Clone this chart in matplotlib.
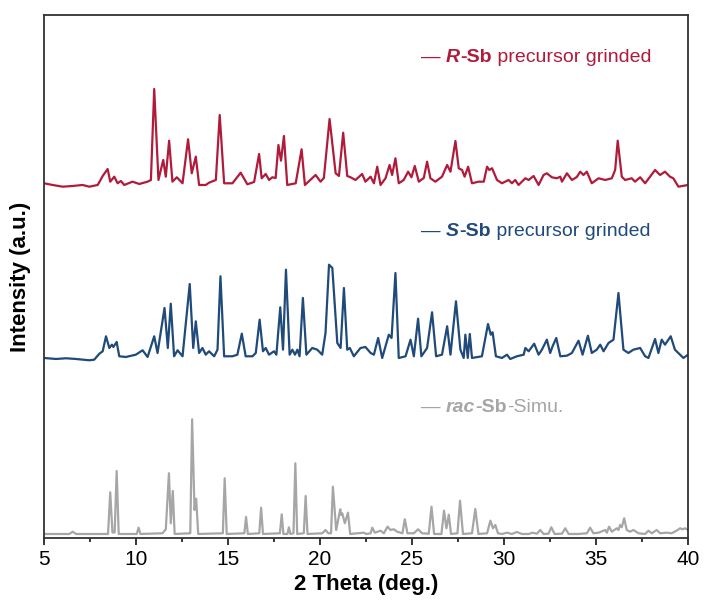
import numpy as np
import matplotlib
matplotlib.use("Agg")
import matplotlib.pyplot as plt

plt.rcParams['font.family'] = ['Liberation Sans', 'DejaVu Sans']

# R-Sb precursor grinded (2theta, intensity a.u.)
theta_r = [5.00, 5.47, 6.02, 6.56, 7.10, 7.46, 7.92, 8.19, 8.46, 8.60, 8.82, 9.00, 9.18, 9.36,
           9.81, 10.18, 10.63, 10.81, 10.99, 11.22, 11.48, 11.62, 11.80, 11.98, 12.22, 12.53,
           12.83, 13.03, 13.25, 13.43, 13.79, 13.97, 14.34, 14.55, 14.79, 15.24, 15.69, 16.05,
           16.42, 16.69, 16.83, 17.05, 17.23, 17.41, 17.59, 17.74, 17.88, 18.04, 18.22, 18.68,
           19.00, 19.18, 19.76, 20.03, 20.21, 20.52, 20.85, 21.03, 21.26, 21.48, 21.66, 21.93,
           22.29, 22.47, 22.75, 22.93, 23.11, 23.29, 23.56, 23.78, 23.92, 24.10, 24.28, 24.55,
           24.79, 24.97, 25.15, 25.37, 25.64, 25.82, 26.00, 26.27, 26.63, 26.91, 27.09, 27.36,
           27.54, 27.72, 27.86, 28.05, 28.26, 28.62, 28.90, 29.08, 29.20, 29.35, 29.62, 29.89,
           30.25, 30.43, 30.61, 30.79, 31.16, 31.34, 31.61, 31.88, 32.15, 32.33, 32.60, 32.87,
           33.06, 33.15, 33.42, 33.69, 33.96, 34.14, 34.32, 34.50, 34.77, 35.14, 35.50, 35.86,
           36.04, 36.18, 36.40, 36.58, 36.94, 37.12, 37.40, 37.67, 38.21, 38.48, 38.75, 39.02,
           39.20, 39.48, 40.00]
int_r = [1.7, 0, -1.7, -1.0, 0, -1.7, 0, 9, 16, 3.3, 8.3, 1.7, 4, 0,
         3.3, 1, 3.3, 5, 96, 5, 25, 8.3, 44.3, 3.3, 7.7, 1.7,
         45.7, 11.7, 28.3, 0, 0, 2.3, 5, 70, 1.7, 1.7, 12.3, 0.7,
         3, 31, 6.7, 11, 5, 7.7, 7, 40, 24.3, 49, 0, 1.7,
         35.7, 0, 10, 3.3, 7, 66, 11.7, 9, 52.3, 9, 7.7, 5,
         11, 3.3, 8.3, 1.7, 18.3, 0, 6.7, 20, 10, 26.7, 1.7, 5,
         13.3, 7.7, 19, 3.3, 7, 23.3, 6.7, 3.3, 8.3, 20, 13.3, 44,
         16.7, 15, 8.3, 18.3, 1.7, 3.3, 3.3, 18.3, 15, 16.7, 5, 1.7,
         5, 1.7, 5, 0, 6.7, 5, 9, 0, 10, 11.7, 7.7, 6.7,
         8.3, 3.3, 11.7, 5, 8, 13.3, 10, 13.3, 1.7, 6.7, 5, 6.7,
         15, 44.3, 8.3, 5, 6.7, 3.3, 7.7, 1.7, 15, 10, 13.3, 8.3,
         6.7, -1.7, 0]

# S-Sb precursor grinded
theta_s = [5.02, 5.65, 6.20, 6.74, 7.46, 7.73, 8.01, 8.19, 8.37, 8.55, 8.69, 8.77, 8.95, 9.09,
           9.45, 9.99, 10.36, 10.63, 10.99, 11.17, 11.55, 11.73, 11.89, 12.07, 12.26, 12.53,
           12.92, 13.11, 13.25, 13.43, 13.61, 13.79, 13.97, 14.25, 14.43, 14.59, 14.79, 15.24,
           15.51, 15.75, 15.96, 16.33, 16.51, 16.72, 16.90, 17.05, 17.23, 17.50, 17.63, 17.84,
           17.99, 18.15, 18.35, 18.50, 18.64, 18.77, 18.89, 19.07, 19.26, 19.58, 19.85, 20.12,
           20.30, 20.49, 20.67, 20.94, 21.12, 21.30, 21.48, 21.62, 21.84, 22.20, 22.47, 22.75,
           22.93, 23.16, 23.38, 23.74, 23.89, 24.10, 24.28, 24.65, 24.92, 25.10, 25.33, 25.51,
           25.82, 26.09, 26.31, 26.63, 26.91, 27.09, 27.27, 27.39, 27.63, 27.81, 27.90, 28.03,
           28.14, 28.26, 28.80, 29.13, 29.28, 29.38, 29.56, 29.89, 30.16, 30.34, 30.70, 31.07,
           31.16, 31.34, 31.64, 31.88, 32.06, 32.33, 32.51, 32.64, 32.84, 33.06, 33.42, 33.69,
           34.05, 34.27, 34.56, 34.77, 35.04, 35.23, 35.41, 35.68, 35.95, 36.22, 36.49, 36.76,
           37.03, 37.40, 37.67, 37.85, 38.21, 38.39, 38.57, 38.75, 39.06, 39.29, 39.57, 39.75,
           40.00]
int_s = [0, -1, -0.3, -1, -2.3, -1.7, 4.3, 6.7, 21.7, 10, 13.3, 11, 16, 1.7,
         1, 3.3, 7.7, 1, 21.7, 5, 50, 10, 54.3, 1.7, 7.7, 1.7,
         74, 10, 36.7, 5, 10, 3.3, 6.7, 1.7, 8.3, 81.7, 1.7, 1.7,
         3.3, 24.3, 1.7, 1.7, 5, 38.3, 6.7, 10, 3.3, 6.7, 3.3, 50.7,
         8.3, 88.3, 3.3, 8.3, 3.3, 8.3, 1.7, 60, 3.3, 10, 8.3, 3.3,
         25, 93.3, 90, 15, 10, 70, 8.3, 10, 1.7, 10, 11, 5,
         3.3, 20, 0, 23.3, 20, 85, 0, 1.7, 18.3, 1.7, 39.3, 1.7,
         10, 45.7, 1.7, 3.3, 31.7, 3.3, 35, 56.7, 8.3, 0, 23.3, 0,
         24, 0, 1.7, 34, 23.3, 25.7, 1.7, 0, 3.3, -1, 1.7, 3.3,
         10, 6.7, 14.3, 3.3, 8.3, 18.3, 5, 11.7, 20, 1.7, 2.3, 5,
         17.3, 3.3, 22.3, 5, 8.3, 13.3, 6.7, 15, 18.3, 65, 8.3, 5,
         8.3, 10, 1.7, 0, 19, 5, 18.3, 13.3, 21.7, 8.3, 3.3, 0,
         3.3]

# rac-Sb simulated
theta_sim = [5.00, 6.38, 6.56, 6.74, 8.48, 8.60, 8.72, 8.84, 8.95, 9.06, 10.04, 10.14, 10.24,
             11.44, 11.62, 11.79, 11.89, 12.00, 12.10, 12.95, 13.05, 13.18, 13.27, 13.38,
             14.72, 14.82, 14.93, 15.89, 15.98, 16.08, 16.70, 16.80, 16.90, 17.82, 17.92, 18.01,
             18.23, 18.31, 18.39, 18.56, 18.66, 18.76, 19.12, 19.22, 19.32, 20.12, 20.30, 20.45,
             20.60, 20.70, 20.88, 21.10, 21.15, 21.21, 21.35, 21.52, 21.64, 22.38, 22.52, 22.75,
             22.84, 22.98, 23.29, 23.47, 23.67, 23.83, 24.01, 24.19, 24.37, 24.48, 24.61, 24.75,
             25.10, 25.33, 25.55, 25.91, 26.06, 26.20, 26.60, 26.74, 26.87, 27.00, 27.12, 27.47,
             27.61, 27.77, 28.26, 28.44, 28.61, 29.08, 29.26, 29.40, 29.53, 29.67, 29.89, 30.16,
             30.43, 30.70, 30.97, 31.34, 31.55, 31.79, 31.97, 32.15, 32.42, 32.57, 32.75, 33.15,
             33.33, 33.51, 34.05, 34.50, 34.68, 34.86, 35.14, 35.50, 35.59, 35.71, 35.86, 36.13,
             36.22, 36.31, 36.40, 36.53, 36.67, 36.85, 37.03, 37.31, 37.67, 37.85, 38.03, 38.30,
             38.48, 38.84, 39.11, 39.38, 39.57, 39.69, 39.84, 40.00]
int_sim = [0, 0, 2.3, 0, 0, 41.7, 1.5, 1.5, 63, 0, 0, 6.3, 0,
           0.7, 4.7, 60.7, 10.7, 43, 0, 0.7, 114.7, 24, 35.3, 0,
           0.7, 55.7, 0, 0.7, 17, 0, 0.7, 26.3, 0, 0.7, 19.7, 0,
           0, 6.7, 0, 0.7, 70.7, 0, 0.7, 38, 0, 0.7, 4, 0.7,
           0.7, 47.3, 4, 24.7, 19, 20.7, 10.7, 21.3, 0, 1.3, 0, 0.7,
           6.3, 1.3, 3.3, 0.7, 7.3, 4, 4.7, 2.3, 1.3, 0.7, 14.7, 0.7,
           0.7, 4.7, 0.7, 0.3, 27.3, 0, 0, 23.3, 5.7, 19.3, 0, 0.7,
           33.3, 0, 0.7, 25, 0, 0.7, 13.3, 5.7, 9, 0.7, 0, 1.3,
           0, 2, 0, 0, 1.3, 0.3, 4, 0, 0.3, 6.7, 0, 0.3,
           5.7, 0, 0, 0.7, 6.3, 0.7, 1.3, 4, 1.3, 7.3, 2.3, 5.7,
           4, 9, 6.7, 15.7, 4, 2.3, 4, 0.7, 0, 3.3, 0.7, 4,
           0.7, 1.3, 0.7, 3.3, 5.7, 4.7, 5.7, 4]

red = '#B11B3B'
blue = '#1F4A7A'
grey = '#A6A6A6'

fig = plt.figure(figsize=(7.05, 6.04), dpi=100)
ax = fig.add_axes([0.0624, 0.1093, 0.9135, 0.8659])

line_kw = dict(lw=1.6, solid_joinstyle='round', solid_capstyle='round')
ax.plot(theta_r, np.array(int_r) + 353, color=red, **line_kw)
ax.plot(theta_s, np.array(int_s) + 180, color=blue, **line_kw)
ax.plot(theta_sim, np.array(int_sim) + 4, color=grey, **line_kw)

ax.set_xlim(5, 40)
ax.set_ylim(0, 523)
ax.set_xticks([5, 10, 15, 20, 25, 30, 35, 40])
ax.set_xticks(np.arange(7.5, 40, 5), minor=True)
ax.set_yticks([])
ax.tick_params(axis='x', which='major', labelsize=15, length=5, width=1.1, direction='out')
ax.tick_params(axis='x', which='minor', length=3, width=1.1, direction='out')
for sp in ax.spines.values():
    sp.set_linewidth(1.3)
    sp.set_color('#333333')

ax.set_xlabel('2 Theta (deg.)', fontsize=16, fontweight='bold', labelpad=4)
ax.set_ylabel('Intensity (a.u.)', fontsize=16, fontweight='bold', labelpad=9)


def legend_label(x, y, parts, color):
    prev = None
    for s, weight, style in parts:
        if prev is None:
            prev = ax.text(x, y, s, color=color, fontsize=14, fontweight=weight,
                           fontstyle=style, va='center', ha='left')
        else:
            prev = ax.annotate(s, xy=(1, 0), xycoords=prev, color=color, fontsize=14,
                               fontweight=weight, fontstyle=style, va='bottom', ha='left')


legend_label(25.5, 480, [('\u2014 ', 'normal', 'normal'), ('R', 'bold', 'italic'),
                         ('-Sb', 'bold', 'normal'), (' precursor grinded', 'normal', 'normal')], red)
legend_label(25.5, 306, [('\u2014 ', 'normal', 'normal'), ('S', 'bold', 'italic'),
                         ('-Sb', 'bold', 'normal'), (' precursor grinded', 'normal', 'normal')], blue)
legend_label(25.5, 130, [('\u2014 ', 'normal', 'normal'), ('rac', 'bold', 'italic'),
                         ('-Sb', 'bold', 'normal'), ('-Simu.', 'normal', 'normal')], grey)

fig.savefig('out.png', dpi=100)
